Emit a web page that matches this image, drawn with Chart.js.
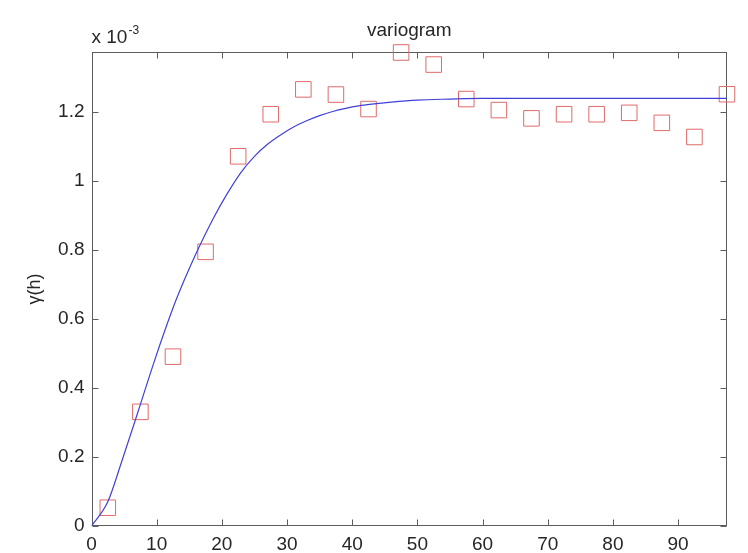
<!DOCTYPE html>
<html>
<head>
<meta charset="utf-8">
<script src="https://cdn.jsdelivr.net/npm/chart.js@4.4.1/dist/chart.umd.min.js"></script>
<style>
  html, body { margin: 0; padding: 0; background: #fff; }
  #wrap { width: 748px; height: 553px; }
</style>
</head>
<body>
<div id="wrap"><canvas id="chart"></canvas></div>
<script>
// lag distances of the experimental variogram
const lags = [2.5, 7.5, 12.5, 17.5, 22.5, 27.5, 32.5, 37.5, 42.5, 47.5,
              52.5, 57.5, 62.5, 67.5, 72.5, 77.5, 82.5, 87.5, 92.5, 97.5];
// experimental semivariance (units of 1e-3)
const gammaExp = [0.053, 0.331, 0.491, 0.795, 1.072, 1.194, 1.266, 1.251, 1.209, 1.373,
                  1.338, 1.238, 1.206, 1.182, 1.194, 1.194, 1.198, 1.169, 1.128, 1.252];
// fitted model curve (units of 1e-3)
const modelLags = [0, 2.5, 4.6, 7.2, 9.75, 12.6, 14.3, 16.2, 18.6, 20.8, 23, 25, 27, 29,
                   31, 33, 35, 37, 39, 41, 43, 46, 50, 55, 60, 70, 80, 90, 97.5];
const modelGamma = [0, 0.07, 0.185, 0.335, 0.484, 0.637, 0.716, 0.797, 0.889, 0.963, 1.027, 1.072, 1.107, 1.134,
                    1.157, 1.175, 1.19, 1.202, 1.211, 1.218, 1.223, 1.229, 1.235, 1.238, 1.24, 1.24, 1.24, 1.24, 1.24];
const xTicks = [0, 10, 20, 30, 40, 50, 60, 70, 80, 90];
const yTicks = [0, 0.2, 0.4, 0.6, 0.8, 1, 1.2];

const FONT = '"Liberation Sans", Arial, Helvetica, sans-serif';
const TEXT = '#262626';

// matlab style box with inward ticks on all four sides, plus the x10^-3 exponent
const matlabAxes = {
  id: 'matlabAxes',
  beforeDatasetsDraw(chart) {
    const { ctx, chartArea: a, scales: { x, y } } = chart;
    const L = Math.round(a.left) + 0.5, R = Math.round(a.right) - 0.5;
    const T = Math.round(a.top) + 0.5, B = Math.round(a.bottom) - 0.5;
    ctx.save();
    ctx.strokeStyle = '#5c5c5c';
    ctx.lineWidth = 1;
    ctx.strokeRect(L, T, R - L, B - T);
    ctx.beginPath();
    x.ticks.forEach(t => {
      const px = Math.round(x.getPixelForValue(t.value)) + 0.5;
      ctx.moveTo(px, B); ctx.lineTo(px, B - 6);
      ctx.moveTo(px, T); ctx.lineTo(px, T + 6);
    });
    y.ticks.forEach(t => {
      const py = Math.round(y.getPixelForValue(t.value)) + 0.5;
      ctx.moveTo(L, py); ctx.lineTo(L + 6, py);
      ctx.moveTo(R, py); ctx.lineTo(R - 6, py);
    });
    ctx.stroke();
    ctx.restore();
  },
  afterDraw(chart) {
    const { ctx, chartArea: a } = chart;
    ctx.save();
    ctx.fillStyle = TEXT;
    ctx.textBaseline = 'alphabetic';
    ctx.font = '19px ' + FONT;
    ctx.fillText('x 10', a.left, 43);
    const w = ctx.measureText('x 10').width;
    ctx.font = '12px ' + FONT;
    ctx.fillText('-3', a.left + w + 1, 34);
    ctx.restore();
  }
};

new Chart(document.getElementById('chart'), {
  type: 'scatter',
  data: {
    datasets: [
      {
        label: 'model',
        data: modelLags.map((h, i) => ({ x: h, y: modelGamma[i] })),
        showLine: true,
        borderColor: '#4040d8',
        borderWidth: 1.2,
        pointRadius: 0,
        cubicInterpolationMode: 'monotone'
      },
      {
        label: 'experimental',
        data: lags.map((h, i) => ({ x: h, y: gammaExp[i] })),
        pointStyle: 'rect',
        pointRadius: 11,
        pointHoverRadius: 11,
        borderColor: '#e06a6a',
        backgroundColor: 'rgba(0,0,0,0)',
        borderWidth: 1,
        clip: false
      }
    ]
  },
  options: {
    responsive: true,
    maintainAspectRatio: false,
    animation: false,
    events: [],
    layout: { padding: { left: 0, right: 21, top: 0, bottom: 0 } },
    plugins: {
      legend: { display: false },
      tooltip: { enabled: false },
      title: {
        display: true,
        text: 'variogram',
        fullSize: false,
        color: TEXT,
        font: { family: FONT, size: 19, weight: 'normal' },
        padding: { top: 19, bottom: 10 }
      }
    },
    scales: {
      x: {
        type: 'linear',
        min: 0,
        max: 97.5,
        grid: { display: false, drawTicks: false },
        border: { display: false },
        afterBuildTicks: s => { s.ticks = xTicks.map(v => ({ value: v })); },
        afterFit: s => { s.height = 27; },
        ticks: {
          padding: 7,
          maxRotation: 0,
          color: TEXT,
          font: { family: FONT, size: 19 },
          callback: v => String(+v.toFixed(1))
        }
      },
      y: {
        type: 'linear',
        min: 0,
        max: 1.375,
        grid: { display: false, drawTicks: false },
        border: { display: false },
        afterBuildTicks: s => { s.ticks = yTicks.map(v => ({ value: v })); },
        afterFit: s => { s.width = 91.5; },
        title: {
          display: true,
          text: 'γ(h)',
          color: TEXT,
          font: { family: FONT, size: 18 },
          padding: { top: 24, bottom: 0 }
        },
        ticks: {
          padding: 7,
          color: TEXT,
          font: { family: FONT, size: 19 },
          callback: v => String(+v.toFixed(1))
        }
      }
    }
  },
  plugins: [matlabAxes]
});
</script>
</body>
</html>
